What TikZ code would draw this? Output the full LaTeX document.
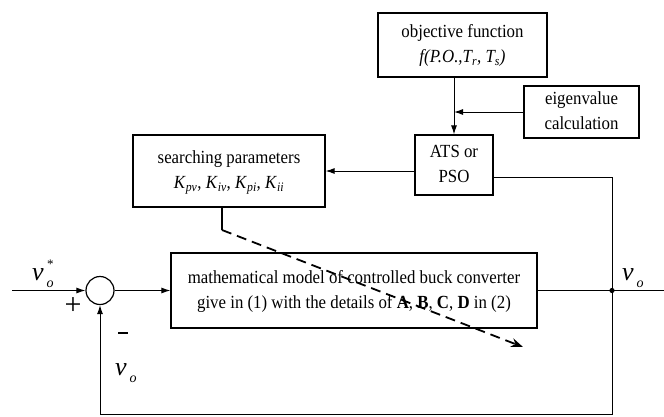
\documentclass[tikz,border=0pt]{standalone}
\usepackage{fontspec}
\usepackage{graphicx}
\setmainfont{Liberation Serif}
\usetikzlibrary{arrows.meta,calc}

% italic v with a lowered subscript o
\newcommand\vsym{\fontsize{26}{26}\selectfont\textit{v}}
\newcommand\osub{\raisebox{-7pt}{\fontsize{14}{14}\selectfont\textit{o}}}
\newcommand\Kp[1]{\textit{K}\textsubscript{\textit{#1}}}
% narrow, tall block text
\newcommand\blocktext[1]{\scalebox{0.91}[1]{\begin{tabular}{@{}c@{}}#1\end{tabular}}}

\begin{document}
\begin{tikzpicture}[x=1pt,y=-1pt,
  every node/.style={font=\fontsize{18.5}{25}\selectfont, inner sep=0pt},
  blk/.style={draw, line width=1.2pt, align=center},
  conn/.style={line width=1pt},
  arr/.style={conn, -{Latex[length=9pt,width=6pt]}},
  lbl/.style={anchor=base west, inner sep=0pt}]
\useasboundingbox (0,0) rectangle (664,416);

% blocks
\node[blk, minimum width=169pt, minimum height=64pt] (obj) at (462.5,45)
  {\blocktext{objective function\\ \textit{f(P.O.,T\textsubscript{r}, T\textsubscript{s})}}};
\node[blk, minimum width=115pt, minimum height=52pt] (eig) at (581.5,112)
  {\blocktext{eigenvalue\\calculation}};
\node[blk, minimum width=78pt, minimum height=60pt] (ats) at (454,165)
  {\blocktext{ATS or\\PSO}};
\node[blk, minimum width=192pt, minimum height=72pt] (srch) at (229,171)
  {\blocktext{searching parameters\\ \Kp{pv}, \Kp{iv}, \Kp{pi}, \Kp{ii}}};
\node[blk, minimum width=366pt, minimum height=75pt] (model) at (354,290.5)
  {\blocktext{mathematical model of controlled buck converter\\
   give in (1) with the details of \textbf{A}, \textbf{B}, \textbf{C}, \textbf{D} in (2)}};
\node[draw, circle, line width=1.2pt, minimum size=28pt] (sum) at (100,290.5) {};

% free ends and corners
\coordinate (in) at (12,290.5);
\coordinate (j) at (612,290.5);
\coordinate (out) at (664,290.5);
\coordinate (atsout) at ($(ats.east)+(0,12)$);
\coordinate (cornerTR) at (612,177);
\coordinate (cornerBR) at (612,414.5);
\coordinate (cornerBL) at (100,414.5);
\coordinate (dstart) at (222,230);
\coordinate (dend) at (523,347);

% signal paths
\draw[arr] (in) -- (sum.west);
\draw[arr] (sum.east) -- (model.west);
\draw[conn] (model.east) -- (out);
\draw[conn] (atsout) -- (cornerTR) -- (cornerBR) -- (cornerBL);
\draw[arr] (cornerBL) -- (sum.south);
\fill (j) circle (2.6pt);

\draw[arr] (ats.north |- obj.south) -- (ats.north);
\draw[arr] (eig.west) -- (eig.west -| ats.north);
\draw[arr] (srch.east -| ats.west) -- (srch.east);

% tuning path into the model
\draw[line width=1.2pt] (srch.south -| dstart) -- (dstart);
\draw[line width=1.8pt, dash pattern=on 10pt off 6pt,
      -{Stealth[length=12pt,width=9pt]}] (dstart) -- (dend);

% signal labels
\node[lbl] (vref) at (32,280) {\vsym\hspace{3pt}\osub\llap{\raisebox{12pt}{\fontsize{13}{13}\selectfont *}}};
\node[lbl] (vfb) at (115,375) {\vsym\hspace{3pt}\osub};
\node[lbl] (vout) at (622,280) {\vsym\hspace{3pt}\osub};
\node[font=\fontsize{30}{30}\selectfont] (plus) at (73,306) {+};
\draw[line width=1.6pt] (118,333) -- (128,333);
\end{tikzpicture}
\end{document}
